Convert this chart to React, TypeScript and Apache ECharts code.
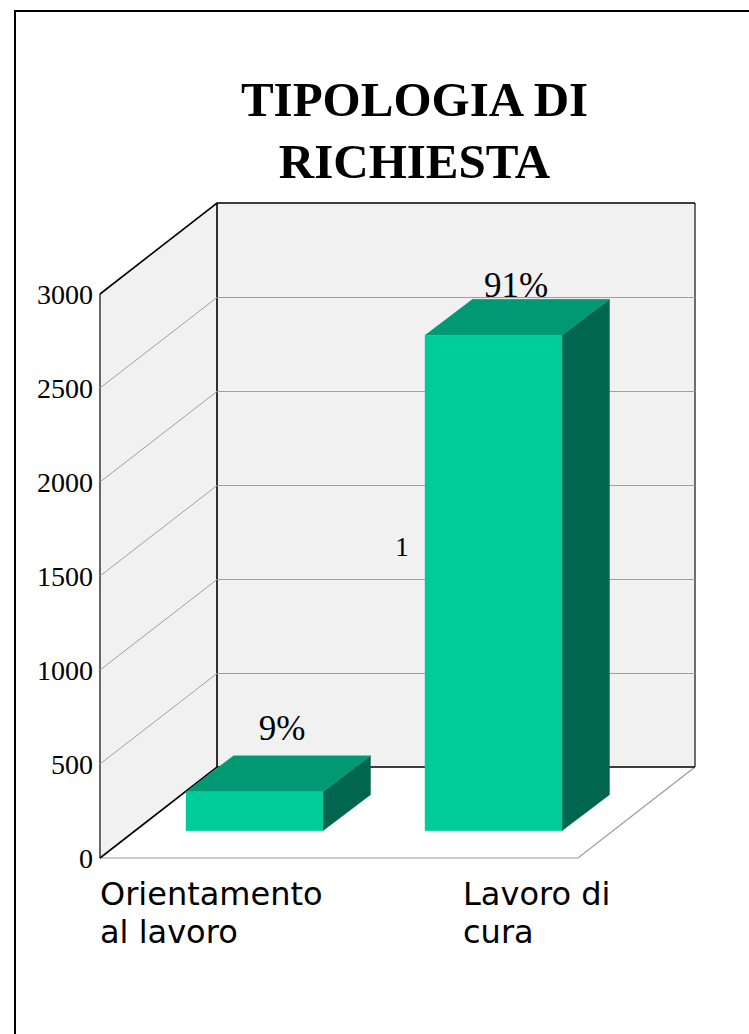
import React, { useEffect, useRef } from "react";
import * as echarts from "echarts";

const titleText = "TIPOLOGIA DI\nRICHIESTA";
const categories = ["Orientamento\nal lavoro", "Lavoro di\ncura"];
const requests = [207, 2635];
const percentLabels = ["9%", "91%"];
const wallTicks = [500, 1000, 1500, 2000, 2500];
const strayLabel = "1";

const SERIF = "Liberation Serif";
const WALL_DX = 117;
const WALL_DY = -91;
const GRID_DY = -90.5;
const BAR_SHIFT_X = 35;
const BAR_SHIFT_Y = -27.3;
const BAR_DX = 47.5;
const BAR_DY = -36;
const BAR_W = 137;

export default function App() {
  const ref = useRef<HTMLDivElement>(null);
  useEffect(() => {
    const chart = echarts.init(ref.current!, undefined, { renderer: "svg" });
    chart.setOption({
      animation: false,
      backgroundColor: "#ffffff",
      title: {
        text: titleText,
        left: 414.5,
        top: 68,
        padding: 0,
        textAlign: "center",
        textStyle: { fontFamily: SERIF, fontWeight: "bold", fontSize: 49, lineHeight: 62, color: "#000" },
      },
      grid: { left: 100, top: 294, width: 478, height: 564 },
      xAxis: {
        type: "category",
        data: categories,
        axisLine: { show: false },
        axisTick: { show: false },
        axisLabel: { show: false },
        splitLine: { show: false },
      },
      yAxis: {
        type: "value",
        min: 0,
        max: 3000,
        interval: 500,
        axisLine: { show: false },
        axisTick: { show: false },
        splitLine: { show: false },
        axisLabel: {
          fontFamily: SERIF,
          fontSize: 28,
          color: "#000",
          margin: 7,
          formatter: (v: number) => String(v),
        },
      },
      series: [
        {
          type: "custom",
          silent: true,
          clip: false,
          z: 1,
          data: [[0, 0]],
          encode: { x: 0, y: 1 },
          renderItem: (params: any) => {
            const c = params.coordSys;
            const l = c.x, r = c.x + c.width, t = c.y, b = c.y + c.height;
            const poly = (points: number[][], style: any) => ({ type: "polygon", shape: { points }, style });
            const line = (points: number[][], stroke: string, lineWidth: number) => ({
              type: "polyline",
              shape: { points },
              style: { stroke, lineWidth, fill: "none" },
            });
            return {
              type: "group",
              children: [
                poly(
                  [[l, t], [l + WALL_DX, t + WALL_DY], [l + WALL_DX, b + WALL_DY], [l, b]],
                  { fill: "#f1f1f1" }
                ),
                poly(
                  [[l + WALL_DX, t + WALL_DY], [r + WALL_DX, t + WALL_DY], [r + WALL_DX, b + WALL_DY], [l + WALL_DX, b + WALL_DY]],
                  { fill: "#f1f1f1" }
                ),
                line([[l, t], [l, b]], "#666666", 2),
                line([[l, b], [r, b], [r + WALL_DX, b + WALL_DY]], "#999999", 1.2),
                line([[l, b], [l + WALL_DX, b + WALL_DY], [r + WALL_DX, b + WALL_DY]], "#000000", 1.6),
                line([[r + WALL_DX, t + WALL_DY], [r + WALL_DX, b + WALL_DY]], "#333333", 1.4),
                line([[l, t], [l + WALL_DX, t + WALL_DY], [r + WALL_DX, t + WALL_DY]], "#000000", 1.6),
                line([[l + WALL_DX, t + WALL_DY], [l + WALL_DX, b + WALL_DY]], "#000000", 1.6),
              ],
            };
          },
        },
        {
          type: "custom",
          silent: true,
          clip: false,
          z: 2,
          data: wallTicks.map((v) => [0, v]),
          encode: { x: 0, y: 1 },
          renderItem: (params: any, api: any) => {
            const c = params.coordSys;
            const y = api.coord([0, api.value(1)])[1];
            const l = c.x, r = c.x + c.width;
            return {
              type: "polyline",
              shape: { points: [[l, y], [l + WALL_DX, y + GRID_DY], [r + WALL_DX, y + GRID_DY]] },
              style: { stroke: "#a0a0a0", lineWidth: 1, fill: "none" },
            };
          },
        },
        {
          type: "custom",
          silent: true,
          clip: false,
          z: 3,
          data: requests.map((v, i) => [i, v]),
          encode: { x: 0, y: 1 },
          renderItem: (_: any, api: any) => {
            const i = api.value(0);
            const top = api.coord([i, api.value(1)]);
            const base = api.coord([i, 0]);
            const x0 = top[0] + BAR_SHIFT_X - BAR_W / 2;
            const x1 = x0 + BAR_W;
            const yT = top[1] + BAR_SHIFT_Y;
            const yB = base[1] + BAR_SHIFT_Y;
            const poly = (points: number[][], color: string) => ({
              type: "polygon",
              shape: { points },
              style: { fill: color, stroke: color, lineWidth: 0.4 },
            });
            return {
              type: "group",
              children: [
                poly([[x1, yT], [x1 + BAR_DX, yT + BAR_DY], [x1 + BAR_DX, yB + BAR_DY], [x1, yB]], "#006650"),
                poly([[x0, yT], [x0 + BAR_DX, yT + BAR_DY], [x1 + BAR_DX, yT + BAR_DY], [x1, yT]], "#009973"),
                poly([[x0, yT], [x1, yT], [x1, yB], [x0, yB]], "#00cc99"),
              ],
            };
          },
        },
      ],
      graphic: [
        {
          type: "polyline",
          z: 10,
          shape: { points: [[15, 1034], [15, 11], [749, 11]] },
          style: { stroke: "#000", lineWidth: 2, fill: "none" },
        },
        {
          type: "text",
          z: 10,
          x: 100,
          y: 875,
          style: { text: categories[0], fontFamily: "DejaVu Sans", fontSize: 32, lineHeight: 38, fill: "#000", align: "left", verticalAlign: "top" },
        },
        {
          type: "text",
          z: 10,
          x: 463,
          y: 875,
          style: { text: categories[1], fontFamily: "DejaVu Sans", fontSize: 32, lineHeight: 38, fill: "#000", align: "left", verticalAlign: "top" },
        },
        {
          type: "text",
          z: 10,
          x: 282,
          y: 728,
          style: { text: percentLabels[0], fontFamily: SERIF, fontSize: 35, fill: "#000", align: "center", verticalAlign: "middle" },
        },
        {
          type: "text",
          z: 10,
          x: 516,
          y: 285,
          style: { text: percentLabels[1], fontFamily: SERIF, fontSize: 35, fill: "#000", align: "center", verticalAlign: "middle" },
        },
        {
          type: "text",
          z: 10,
          x: 402,
          y: 547,
          style: { text: strayLabel, fontFamily: SERIF, fontSize: 27, fill: "#000", align: "center", verticalAlign: "middle" },
        },
      ],
    });
    return () => chart.dispose();
  }, []);
  return <div ref={ref} style={{ position: "absolute", left: 0, top: 0, width: 749, height: 1034 }} />;
}
